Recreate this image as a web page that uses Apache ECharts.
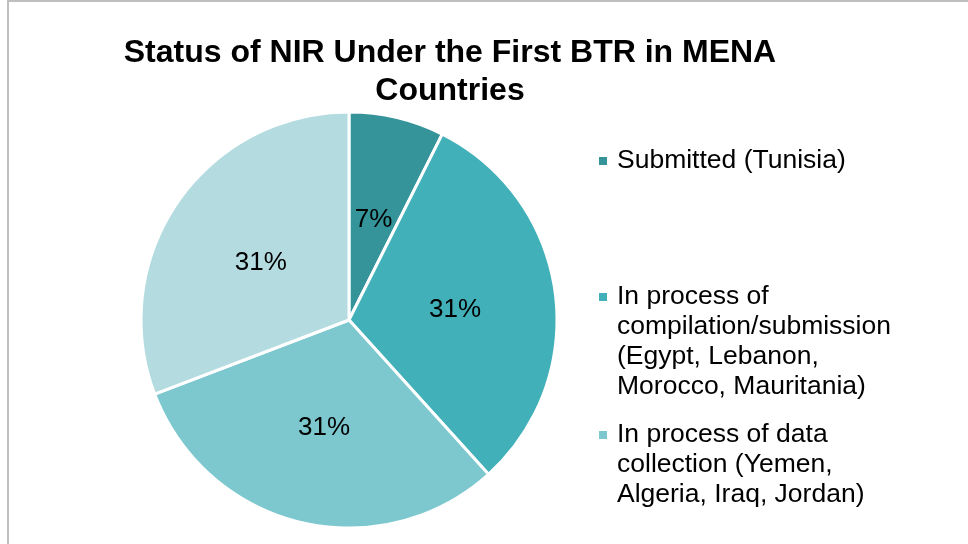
<!DOCTYPE html>
<html>
<head>
<meta charset="utf-8">
<script src="https://cdn.jsdelivr.net/npm/echarts@6/dist/echarts.min.js"></script>
<style>
  html, body { margin: 0; padding: 0; background: #fff; }
  #main { width: 968px; height: 544px; }
</style>
</head>
<body>
<div id="main"></div>
<script>
// status categories and share of countries (%)
var categories = [
    'Submitted (Tunisia)',
    'In process of compilation/submission (Egypt, Lebanon, Morocco, Mauritania)',
    'In process of data collection (Yemen, Algeria, Iraq, Jordan)',
    ''
];
var values = [7.4, 30.9, 30.9, 30.8];
// wrapped legend text, as shown in the picture
var legendLines = [
    ['Submitted (Tunisia)'],
    ['In process of', 'compilation/submission', '(Egypt, Lebanon,', 'Morocco, Mauritania)'],
    ['In process of data', 'collection (Yemen,', 'Algeria, Iraq, Jordan)']
];
var colors = ['#35939a', '#42b0b9', '#7cc8ce', '#b4dce0'];

var myChart = echarts.init(document.getElementById('main'));

var lineH = 30;
var firstLineY = [161, 297, 435];
var legends = [];
for (var i = 0; i < 3; i++) {
    var n = legendLines[i].length;
    legends.push({
        data: [categories[i]],
        left: 599,
        top: firstLineY[i] - (2 * n - 1) * lineH / 2,
        padding: 0,
        orient: 'vertical',
        icon: 'rect',
        itemWidth: 8,
        itemHeight: 8,
        itemStyle: { borderWidth: 0 },
        selectedMode: false,
        // blank lines in front keep the marker beside the first line
        formatter: (function (lines) {
            return function () {
                var out = [];
                for (var k = 1; k < lines.length; k++) out.push('{t| }');
                lines.forEach(function (l) { out.push('{t|' + l + '}'); });
                return out.join('\n');
            };
        })(legendLines[i]),
        textStyle: {
            fontFamily: 'Liberation Sans, Arial, sans-serif',
            fontSize: 26.5,
            lineHeight: lineH,
            color: '#000',
            rich: {
                t: {
                    fontFamily: 'Liberation Sans, Arial, sans-serif',
                    fontSize: 26.5,
                    lineHeight: lineH,
                    color: '#000',
                    padding: [0, 0, 0, 5]
                }
            }
        }
    });
}

var option = {
    color: colors,
    title: {
        text: 'Status of NIR Under the First BTR in MENA\nCountries',
        left: 450,
        top: 34,
        padding: 0,
        textAlign: 'center',
        textStyle: {
            fontFamily: 'Liberation Sans, Arial, sans-serif',
            fontWeight: 'bold',
            fontSize: 32,
            lineHeight: 38,
            color: '#000'
        }
    },
    legend: legends,
    graphic: [
        {
            type: 'polyline',
            shape: { points: [[8, 544], [8, 1], [968, 1]] },
            style: { stroke: '#bfbfbf', lineWidth: 2, fill: null }
        }
    ],
    series: [
        {
            name: 'Status',
            type: 'pie',
            center: [349, 320],
            radius: [0, 208],
            startAngle: 90,
            clockwise: true,
            percentPrecision: 0,
            itemStyle: {
                borderColor: '#fff',
                borderWidth: 3
            },
            label: {
                show: true,
                position: 'inside',
                formatter: '{d}%',
                offset: [0, 4],
                fontFamily: 'Liberation Sans, Arial, sans-serif',
                fontSize: 26,
                color: '#000'
            },
            labelLine: { show: false },
            emphasis: { scale: false },
            data: categories.map(function (name, idx) {
                return { name: name, value: values[idx] };
            })
        }
    ]
};

myChart.setOption(option);
</script>
</body>
</html>
